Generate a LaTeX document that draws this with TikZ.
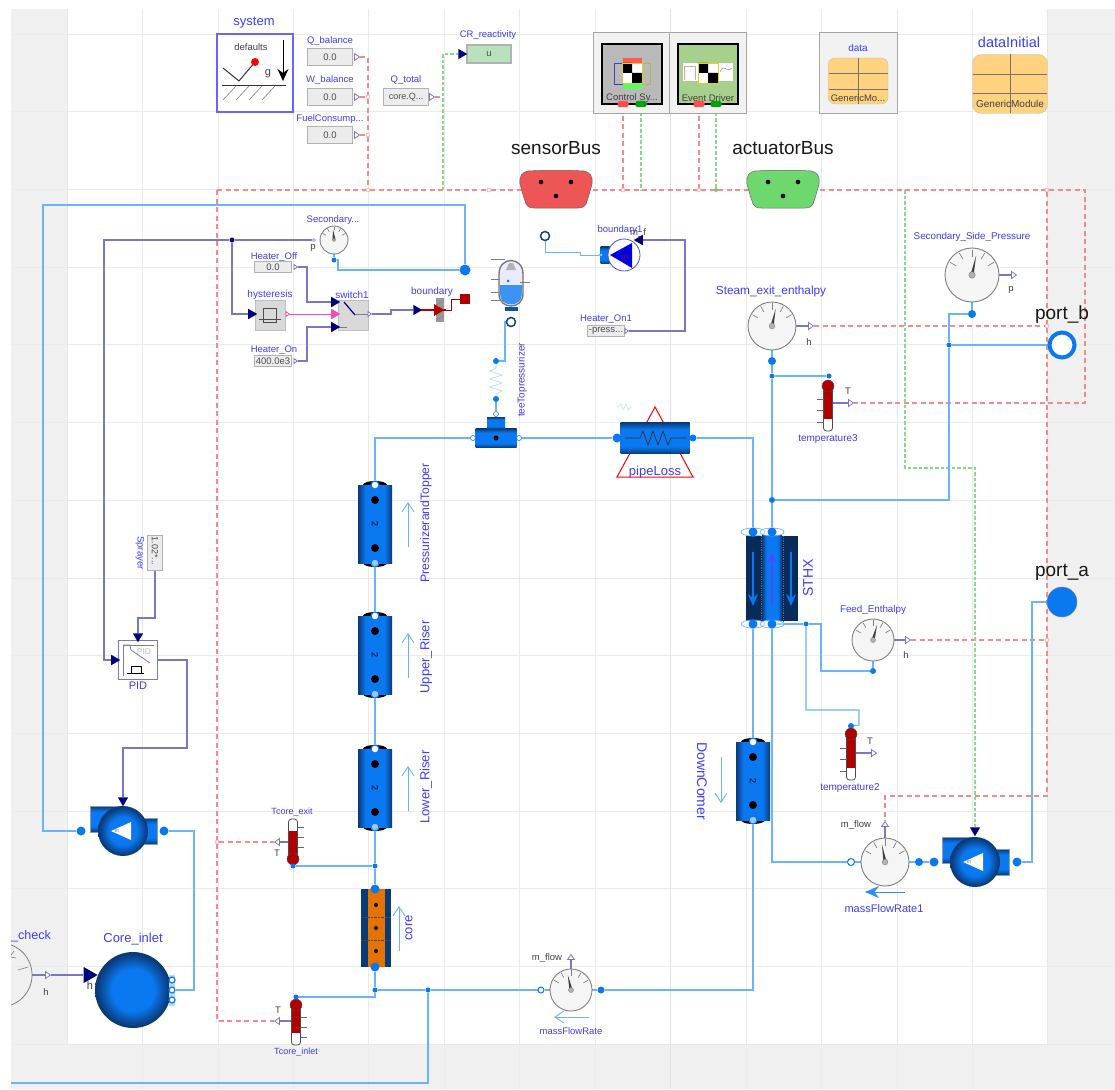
\documentclass[tikz,border=0pt]{standalone}
\usepackage{fontspec}
\setmainfont{Liberation Sans}
\usetikzlibrary{positioning,arrows.meta,shapes.geometric,backgrounds,calc}

\definecolor{canvasgray}{HTML}{F0F0F0}
\definecolor{gridgray}{HTML}{EBEBEB}
\definecolor{labelblue}{HTML}{3C3CFF}
\definecolor{pipeblue}{HTML}{6AB4FF}
\definecolor{fluidblue}{HTML}{0A78F0}
\definecolor{fluiddark}{HTML}{0A3A78}
\definecolor{signalpurple}{HTML}{7878C8}
\definecolor{navytip}{HTML}{00007F}
\definecolor{busred}{HTML}{F58A8A}
\definecolor{busgreen}{HTML}{86DC86}
\definecolor{tableorange}{HTML}{FFD27F}
\definecolor{thermored}{HTML}{B00000}
\definecolor{sensorfill}{HTML}{EE5555}
\definecolor{actuatorfill}{HTML}{6ED86E}
\definecolor{crfill}{HTML}{B8E2BC}
\definecolor{eventfill}{HTML}{A8D08D}

\pgfdeclarehorizontalshading{pipeshade}{100bp}{color(0bp)=(fluiddark); color(25bp)=(fluiddark); color(36bp)=(fluidblue); color(64bp)=(fluidblue); color(75bp)=(fluiddark); color(100bp)=(fluiddark)}
\pgfdeclareradialshading{ballshade}{\pgfpoint{0bp}{0bp}}{color(0bp)=(fluidblue); color(14bp)=(fluidblue); color(24bp)=(fluiddark); color(25bp)=(fluiddark); color(50bp)=(fluiddark)}

% dial with ticks and needle
\newcommand{\gaugedial}[4]{%
  \node[gauge, minimum size=2*#3 pt] (#1) at (#2) {};
  \foreach \a in {30,60,90,120,150}
    \draw[gray, line width=0.7pt] ($(#1)+(\a:#3*0.68pt)$) -- ($(#1)+(\a:#3*0.94pt)$);
  \fill[black!75] ($(#1)+(#4+90:1.6pt)$) -- ($(#1)+(#4:#3*0.74pt)$) -- ($(#1)+(#4-90:1.6pt)$) -- cycle;
  \draw[gray, fill=gray!60] (#1) circle (#3*0.12pt);
}
% thermometer, bulb at the origin of the scope
\newcommand{\thermo}[2]{%
  \begin{scope}[#1]
    \draw[black!70, fill=white, rounded corners=3pt, line width=0.8pt] (-4.5,0) rectangle (4.5,#2);
    \fill[thermored] (-3.8,0) rectangle (3.8,#2-12);
    \draw[black!70, line width=0.7pt] (-4.5,0) -- (-4.5,#2-12) (4.5,0) -- (4.5,#2-12);
    \draw[black!70, fill=thermored] (0,0) circle (6pt);
    \foreach \t in {0.3,0.55,0.8}
      \draw[black!60, line width=0.6pt] (-4.5,#2*\t) -- (-11,#2*\t);
  \end{scope}
}
\newcommand{\pipecell}[3]{%
  \fill[black] (#2,#3-39) ellipse (12pt and 4pt);
  \fill[black] (#2,#3+39) ellipse (12pt and 4pt);
  \node[pipebody] (#1) at (#2,#3) {};
  \fill[black] (#2,#3-24) circle (4pt) (#2,#3+24) circle (4pt);
  \node[rotate=-90, font=\fontsize{9}{10}\selectfont] (#1num) at (#2,#3) {2};
  \node[openport, fill=white, draw=fluidblue] (#1top) at (#2,#3-39) {};
  \node[openport, fill=fluidblue!40!white, draw=fluidblue] (#1bot) at (#2,#3+39) {};
}
\newcommand{\pumpbody}[3]{%
  \draw[fluiddark!50, shade, shading=pipeshade, shading angle=90] (#2-33,#3-25) rectangle (#2-2,#3+1);
  \draw[fluiddark!50, shade, shading=pipeshade, shading angle=90] (#2+2,#3-13) rectangle (#2+34,#3+13);
  \node[ballbody, minimum size=50pt] (#1) at (#2,#3) {};
  \fill[white] (#2-12,#3) -- (#2+8,#3-9) -- (#2+8,#3+9) -- cycle;
  \node[font=\fontsize{5}{6}\selectfont, black!60] (#1m) at (#2-6,#3) {m};
}
\newcommand{\pidcheck}[2]{%
  \fill[white] (#1,#2) rectangle ++(20,20);
  \fill[black] (#1,#2) rectangle ++(10,10) (#1+10,#2+10) rectangle ++(10,10);
  \draw[yellow!85!black, line width=0.8pt] (#1,#2) rectangle ++(20,20);
}
\newcommand{\busconn}[3]{%
  \begin{scope}[shift={(#1,#2)}]
    \draw[black!60, fill=#3, line width=0.5pt] (-28,-19) .. controls (-10,-20) and (10,-20) .. (28,-19) .. controls (34,-18) and (37,-14) .. (36,-6) .. controls (34,2) and (32,8) .. (30,14) .. controls (28,17) and (26,18) .. (22,18) -- (-22,18) .. controls (-26,18) and (-28,17) .. (-30,14) .. controls (-32,8) and (-34,2) .. (-36,-6) .. controls (-37,-14) and (-34,-18) .. (-28,-19) -- cycle;
    \fill[black] (-15,-8) circle (2.3pt) (15,-8) circle (2.3pt) (0,6) circle (2.3pt);
  \end{scope}
}

\begin{document}
\begin{tikzpicture}[
    x=1pt, y=-1pt,
    >=Stealth,
    lblS/.style={text=labelblue, font=\fontsize{9.5}{11}\selectfont, inner sep=0pt},
    lblM/.style={text=labelblue, font=\fontsize{11}{13}\selectfont, inner sep=0pt},
    lblL/.style={text=labelblue, font=\fontsize{13}{15}\selectfont, inner sep=0pt},
    blackS/.style={text=black!75, font=\fontsize{9.5}{11}\selectfont, inner sep=0pt},
    blackL/.style={text=black!90, font=\fontsize{19}{21}\selectfont, inner sep=0pt},
    gauge/.style={circle, draw=gray, fill=black!4, line width=0.9pt, inner sep=0pt},
    pipebody/.style={rectangle, shade, shading=pipeshade, minimum width=34pt, minimum height=78pt, inner sep=0pt},
    ballbody/.style={circle, shade, shading=ballshade, inner sep=0pt},
    fluidport/.style={circle, fill=fluidblue, minimum size=9pt, inner sep=0pt},
    openport/.style={circle, draw=fluidblue, fill=white, line width=1.2pt, minimum size=8pt, inner sep=0pt},
    junction/.style={circle, fill=fluidblue, minimum size=5pt, inner sep=0pt},
    valuebox/.style={rectangle, draw=gray!60, fill=gray!15, line width=1.1pt, font=\fontsize{9.5}{11}\selectfont, text=black!70, inner sep=0pt},
    blockbox/.style={rectangle, draw=gray!50, fill=gray!30, inner sep=0pt},
    outtip/.style={isosceles triangle, isosceles triangle apex angle=70, draw=signalpurple, fill=white, line width=0.8pt, minimum size=5pt, inner sep=1pt},
    intip/.style={isosceles triangle, isosceles triangle apex angle=60, fill=navytip, minimum size=9pt, inner sep=1pt},
    flowpipe/.style={draw=pipeblue, line width=1.1pt},
    signal/.style={draw=signalpurple, line width=1.1pt},
    boolsignal/.style={draw=magenta!70, line width=1pt},
    redbus/.style={draw=busred, dash pattern=on 5pt off 3.5pt, line width=1.3pt},
    greenbus/.style={draw=busgreen, dash pattern=on 3.5pt off 2pt, line width=1.1pt},
    redjoint/.style={circle, draw=busred, fill=white, minimum size=4pt, inner sep=0pt},
    flowarrow/.style={draw=pipeblue, line width=0.9pt, -{Straight Barb[length=9pt,width=12pt]}}
]
\useasboundingbox (0,0) rectangle (1115,1089);

% Fixed components top row
\node[rectangle, draw=blue!60!white, line width=1.1pt, fill=white, minimum width=76pt, minimum height=78pt] (systembox) at (255,73) {};
\node[lblL] (systemlbl) at (254,23) {system};
\node[blackS] (defaultslbl) at (251,47) {defaults};
\draw[black!80, line width=1pt] (223,68) -- (239,81) -- (255,62);
\fill[red] (255,62) circle (4pt);
\node[blackS, font=\fontsize{11}{13}\selectfont] (glbl) at (268,74) {g};
\draw[black, line width=1pt, -{Stealth[length=12pt,width=11pt]}] (283,40) -- (283,81);
\draw[black!80, line width=0.8pt] (222,85) -- (286,85);
\foreach \h in {223,236,249,262}
  \draw[black!50, line width=0.6pt] (\h,100) -- (\h+13,86);

\node[lblS] (qbalancelbl) at (330,41) {Q\_balance};
\node[valuebox, minimum width=45pt, minimum height=17pt] (qbalance) at (330,57) {0.0};
\node[lblS] (wbalancelbl) at (330,80) {W\_balance};
\node[valuebox, minimum width=45pt, minimum height=17pt] (wbalance) at (330,97) {0.0};
\node[lblS] (fuellbl) at (330,119) {FuelConsump...};
\node[valuebox, minimum width=45pt, minimum height=17pt] (fuelconsump) at (330,135) {0.0};
\node[lblS] (qtotallbl) at (406,80) {Q\_total};
\node[valuebox, minimum width=45pt, minimum height=17pt, font=\fontsize{9}{11}\selectfont] (qtotal) at (406,97) {core.Q...};
\node[outtip] (qbalanceout) at (356,57) {};
\node[outtip] (wbalanceout) at (356,97) {};
\node[outtip] (fuelout) at (356,135) {};
\node[outtip] (qtotalout) at (431,97) {};
\node[lblS] (crlbl) at (488,35) {CR\_reactivity};
\node[valuebox, fill=crfill, minimum width=44pt, minimum height=18pt] (crvalue) at (489,54) {u};
\node[intip] (crin) at (461,54) {};

% Controllers
\node[rectangle, draw=gray!70, fill=black!5, line width=1pt, minimum width=76pt, minimum height=81pt] (controlbox) at (631,73) {};
\node[rectangle, draw=gray!70, fill=black!5, line width=1pt, minimum width=77pt, minimum height=81pt] (eventbox) at (708,73) {};
\node[rectangle, draw=black, fill=gray!55, line width=1.3pt, minimum width=60pt, minimum height=60pt] (controlinner) at (632,74) {};
\node[rectangle, draw=black, fill=eventfill, line width=1.3pt, minimum width=60pt, minimum height=60pt] (eventinner) at (708,74) {};
\draw[blue!50!gray, line width=0.6pt] (614,63) rectangle (630,84);
\draw[yellow!70!black, line width=0.6pt] (634,63) rectangle (650,84);
\fill[red!65] (623,58) rectangle (642,63);
\fill[green!65] (623,84) rectangle (642,89);
\pidcheck{622}{63}
\fill[white] (683,63) rectangle (733,81);
\draw[red!40, line width=0.7pt] (684,80) -- (684,66) -- (695,66) -- (695,80);
\draw[blue!50, line width=0.5pt] (720,72) .. controls (724,62) and (726,74) .. (732,68);
\pidcheck{698}{63}
\node[blackS] (controllbl) at (632,98) {Control Sy...};
\node[blackS] (eventlbl) at (708,98) {Event Driver};
\node[rectangle, rounded corners=2pt, fill=red!70, minimum width=11pt, minimum height=6pt, inner sep=0pt] (controlred) at (623,104) {};
\node[rectangle, rounded corners=2pt, fill=green!65!black, minimum width=11pt, minimum height=6pt, inner sep=0pt] (controlgreen) at (641,104) {};
\node[rectangle, rounded corners=2pt, fill=red!70, minimum width=11pt, minimum height=6pt, inner sep=0pt] (eventred) at (699,104) {};
\node[rectangle, rounded corners=2pt, fill=green!65!black, minimum width=11pt, minimum height=6pt, inner sep=0pt] (eventgreen) at (716,104) {};

% Data records
\node[rectangle, draw=gray!70, fill=black!5, line width=1pt, minimum width=78pt, minimum height=81pt] (databox) at (858,73) {};
\node[lblS, font=\fontsize{10}{12}\selectfont] (datalbl) at (858,48) {data};
\node[rectangle, rounded corners=7pt, draw=gray!50, fill=tableorange, minimum width=60pt, minimum height=46pt] (datatable) at (858,81) {};
\draw[black!55, line width=0.7pt] (858,58) -- (858,104) (829,73) -- (888,73) (829,89) -- (888,89);
\node[blackS] (datamodule) at (858,98) {GenericMo...};
\node[lblL, font=\fontsize{14.5}{16}\selectfont] (initiallbl) at (1009,42) {dataInitial};
\node[rectangle, rounded corners=9pt, draw=gray!50, fill=tableorange, minimum width=75pt, minimum height=59pt] (initialtable) at (1010,84) {};
\draw[black!55, line width=0.7pt] (1010,54) -- (1010,113) (973,74) -- (1047,74) (973,93) -- (1047,93);
\node[blackS, font=\fontsize{10}{12}\selectfont] (initialmodule) at (1010,104) {GenericModule};

% Buses
\node[blackL] (sensorlbl) at (556,148) {sensorBus};
\busconn{556}{190}{sensorfill}
\node[blackL] (actuatorlbl) at (783,148) {actuatorBus};
\busconn{783}{190}{actuatorfill}

% Pressure control
\node[lblS] (secondarylbl) at (333,220) {Secondary...};
\gaugedial{secondarygauge}{334,240}{14}{95}
\node[openport, minimum size=3pt, line width=0.5pt, draw=signalpurple] (secondaryp) at (314,240) {};
\node[blackS] (secondarypv) at (313,248) {p};
\node[junction] (secondaryport) at (334,260) {};
\node[fluidport, minimum size=11pt] (heatjoint) at (465,270) {};

\node[lblS] (offlbl) at (274,257) {Heater\_Off};
\node[valuebox, minimum width=37pt, minimum height=11pt] (heateroff) at (273,267) {0.0};
\node[outtip, minimum size=3pt] (heateroffout) at (295,267) {};
\node[lblS, font=\fontsize{10}{12}\selectfont] (hystlbl) at (270,295) {hysteresis};
\node[blockbox, minimum width=30pt, minimum height=30pt] (hysteresis) at (270,315) {};
\draw[black!70, line width=0.6pt] (259,319) -- (281,319) (263,322) -- (263,308) -- (276,308) -- (276,322) -- cycle;
\node[intip] (hystin) at (251,314) {};
\node[outtip, draw=magenta!70, minimum size=3pt] (hystout) at (287,314) {};
\node[lblS] (onlbl) at (274,350) {Heater\_On};
\node[valuebox, minimum width=37pt, minimum height=11pt] (heateron) at (273,361) {400.0e3};
\node[outtip, minimum size=3pt] (heateronout) at (295,361) {};
\node[lblS, font=\fontsize{10}{12}\selectfont] (switchlbl) at (352,295) {switch1};
\node[blockbox, minimum width=30pt, minimum height=30pt] (switchone) at (353,315) {};
\draw[navytip, line width=1.2pt] (344,302) -- (355,315);
\draw[gray, line width=0.7pt] (355,314) -- (368,314) (338,327) -- (347,327);
\node[intip] (switchu1) at (334,302) {};
\node[intip, fill=magenta!70] (switchu2) at (334,314) {};
\node[intip] (switchu3) at (334,327) {};
\node[outtip, minimum size=3pt] (switchout) at (369,314) {};
\node[lblS, font=\fontsize{10}{12}\selectfont] (boundlbl) at (432,292) {boundary};
\node[intip] (boundin) at (416,310) {};
\fill[gray!80] (436,298) rectangle (444,322);
\foreach \b in {301,306,...,316}
  \draw[black!50, line width=0.4pt] (436,\b+4) -- (444,\b);
\draw[red!70!black, line width=1.5pt] (421,310) -- (446,310);
\fill[red!70!black] (434,304) -- (444,310) -- (434,316) -- cycle;
\node[rectangle, fill=red!70!black, minimum size=10pt, inner sep=0pt] (boundred) at (465,299) {};

% Pressurizer
\draw[black!55, line width=1.3pt, fill=blue!8] (499,274) .. controls (499,256) and (523,256) .. (523,274) -- (523,294) .. controls (523,310) and (499,310) .. (499,294) -- cycle;
\fill[fluidblue!80] (500,285) rectangle (522,294);
\fill[fluidblue!80] (500,294) .. controls (500,308) and (522,308) .. (522,294) -- cycle;
\fill[gray!60] (509,263) -- (513,263) -- (516,270) -- (506,270) -- cycle;
\fill[fluidblue] (508,281) circle (1.5pt);
\draw[black!50, line width=0.4pt] (491,259) -- (505,259) (491,300) -- (504,300) (491,279) -- (500,279) (491,292) -- (503,292) (520,282) -- (530,282);
\fill[fluidblue!70!black] (505,307) rectangle (518,311);
\node[openport, draw=fluiddark!80!fluidblue, line width=1.5pt, minimum size=9pt] (pressport) at (511,322) {};
\node[junction, minimum size=6pt] (springtop) at (496,361) {};
\node[junction, minimum size=6pt] (springbot) at (496,399) {};
\draw[pipeblue!60, line width=0.6pt] (496,364) -- (496,368) -- (490,371) -- (502,375) -- (490,379) -- (502,383) -- (490,387) -- (502,391) -- (496,394) -- (496,396);
\node[lblS, rotate=90, font=\fontsize{10}{12}\selectfont] (teelbl) at (522,380) {teeTopressurizer};

% Boundary with mass flow
\node[openport, draw=fluiddark!80!fluidblue, line width=1.5pt, minimum size=9pt] (boundone) at (545,236) {};
\node[rectangle, shade, shading=pipeshade, shading angle=90, minimum width=9pt, minimum height=17pt, inner sep=0pt] (pumpstub) at (605,255) {};
\node[circle, draw=blue!70, fill=white, line width=0.8pt, minimum size=32pt, inner sep=0pt] (boundmdot) at (624,255) {};
\fill[blue!90!black] (610,255) -- (632,243) -- (632,268) -- cycle;
\node[text=red!70!black, font=\fontsize{9}{10}\selectfont, inner sep=0pt] (mdot) at (625,256) {$\dot{m}$};
\node[openport, minimum size=3pt, line width=0.5pt] (boundoneport) at (601,255) {};
\node[lblS] (boundonelbl) at (620,230) {boundary1};
\node[blackS] (mflabel) at (638,233) {m\_f};
\node[intip, shape border rotate=180] (mflowin) at (640,240) {};
\node[lblS] (heatonelbl) at (606,319) {Heater\_On1};
\node[valuebox, minimum width=37pt, minimum height=11pt] (heaterone) at (606,331) {-press...};
\node[outtip, minimum size=3pt] (heateroneout) at (626,331) {};

% Loop components
\node[rectangle, shade, shading=pipeshade, shading angle=90, minimum width=41pt, minimum height=19pt, inner sep=0pt] (teebase) at (496,438) {};
\node[rectangle, shade, shading=pipeshade, shading angle=90, minimum width=18pt, minimum height=12pt, inner sep=0pt] (teetop) at (496,423) {};
\fill[black] (496,438) circle (2.5pt);
\node[openport, minimum size=5pt, line width=0.6pt] (teeleft) at (473,438) {};
\node[openport, minimum size=5pt, line width=0.6pt] (teeright) at (519,438) {};
\node[openport, minimum size=5pt, line width=0.6pt] (teeup) at (496,414) {};

\draw[red, line width=1pt] (655,407) -- (693,477) -- (617,477) -- cycle;
\node[rectangle, shade, shading=pipeshade, shading angle=90, minimum width=69pt, minimum height=31pt, inner sep=0pt] (pipeloss) at (655,438) {};
\draw[black!80, line width=0.7pt] (625,438) -- (640,438) -- (643,431) -- (648,445) -- (653,431) -- (658,445) -- (663,431) -- (668,445) -- (671,438) -- (686,438);
\node[fluidport] (lossleft) at (617,438) {};
\node[fluidport, minimum size=7pt] (lossright) at (693,438) {};
\node[lblL] (losslbl) at (655,472) {pipeLoss};
\draw[pipeblue!50, line width=0.4pt] (618,407) -- (621,404) -- (623,410) -- (626,404) -- (628,410) -- (631,407);

\pipecell{pressurizercell}{375}{524}
\node[lblL, font=\fontsize{12.2}{14}\selectfont, rotate=90] (pressurizerlbl) at (426,523) {PressurizerandTopper};
\draw[flowarrow] (408,547) -- (408,502);
\pipecell{upperriser}{375}{655}
\node[lblL, rotate=90] (upperlbl) at (426,657) {Upper\_Riser};
\draw[flowarrow] (408,678) -- (408,633);
\pipecell{lowerriser}{375}{788}
\node[lblL, rotate=90] (lowerlbl) at (426,787) {Lower\_Riser};
\draw[flowarrow] (408,811) -- (408,766);
\pipecell{downcomer}{753}{781}
\node[lblL, font=\fontsize{14}{16}\selectfont, rotate=-90] (downlbl) at (702,781) {DownComer};
\draw[flowarrow] (721,757) -- (721,803);

% Core
\node[rectangle, fill=fluiddark, minimum width=30pt, minimum height=78pt, inner sep=0pt] (coreshell) at (376,928) {};
\node[rectangle, fill=orange!90!black, minimum width=17pt, minimum height=78pt, inner sep=0pt] (corefuel) at (376,928) {};
\fill[black] (376,905) circle (2pt) (376,928) circle (2pt) (376,951) circle (2pt);
\draw[black!70, densely dotted] (361,917) -- (391,917) (361,940) -- (391,940);
\node[fluidport] (coretop) at (375,889) {};
\node[fluidport] (corebot) at (375,967) {};
\draw[flowarrow] (399,951) -- (399,906);
\node[lblL, rotate=90] (corelbl) at (409,928) {core};

% STHX
\node[rectangle, fill=fluiddark!75!black, minimum width=52pt, minimum height=85pt, inner sep=0pt] (sthx) at (772,578) {};
\node[rectangle, shade, shading=pipeshade, minimum width=20pt, minimum height=85pt, inner sep=0pt] (sthxcore) at (772,578) {};
\draw[black!60, densely dotted, line width=0.8pt] (761,536) -- (761,621) (783,536) -- (783,621);
\draw[fluidblue, line width=1.2pt, -{Stealth[length=12pt,width=10pt]}] (753,552) -- (753,606);
\draw[fluidblue, line width=1.2pt, -{Stealth[length=12pt,width=10pt]}] (791,552) -- (791,606);
\draw[blue!70, line width=1.2pt, -{Stealth[length=10pt,width=9pt]}] (772,606) -- (772,553);
\foreach \e/\f in {753/532,772/532,753/624,772/624}
  \draw[pipeblue, line width=0.7pt, fill=white, fill opacity=0.4] (\e,\f) ellipse (12pt and 4pt);
\node[fluidport] (sthxa) at (753,532) {};
\node[fluidport] (sthxb) at (772,532) {};
\node[fluidport] (sthxc) at (753,624) {};
\node[fluidport] (sthxd) at (772,624) {};
\node[lblL, font=\fontsize{14}{16}\selectfont, rotate=90] (sthxlbl) at (808,578) {STHX};

% Sensors, secondary side
\node[lblS, font=\fontsize{9.8}{11}\selectfont] (sidelbl) at (972,237) {Secondary\_Side\_Pressure};
\gaugedial{sidegauge}{972,275}{27}{78}
\node[outtip] (sideout) at (1013,275) {};
\node[blackS] (sidep) at (1011,290) {p};
\node[fluidport, minimum size=8pt] (sideport) at (972,314) {};
\node[lblS, font=\fontsize{11.8}{14}\selectfont] (steamlbl) at (771,291) {Steam\_exit\_enthalpy};
\gaugedial{steamgauge}{772,326}{24}{78}
\node[outtip] (steamout) at (810,326) {};
\node[blackS] (steamh) at (809,342) {h};
\node[fluidport, minimum size=8pt] (steamport) at (772,361) {};
\node[junction] (steamjoint) at (772,376) {};
\node[junction] (temp3port) at (829,376) {};
\thermo{shift={(828,386)}}{45}
\node[blackS] (temp3T) at (848,391) {T};
\node[outtip] (temp3out) at (850,403) {};
\node[lblS, font=\fontsize{10}{12}\selectfont] (temp3lbl) at (828,439) {temperature3};
\node[junction, minimum size=5pt] (sidejoint) at (949,345) {};
\node[blackL] (portblbl) at (1062,315) {port\_b};
\node[circle, draw=fluidblue, fill=white, line width=4pt, minimum size=25pt, inner sep=0pt] (portb) at (1062,345) {};
\node[junction, minimum size=6pt] (sthxjoint) at (772,500) {};

\node[lblS, font=\fontsize{9.8}{11}\selectfont] (feedlbl) at (873,610) {Feed\_Enthalpy};
\gaugedial{feedgauge}{873,640}{21}{75}
\node[outtip] (feedout) at (907,640) {};
\node[blackS] (feedh) at (906,655) {h};
\node[fluidport, minimum size=6pt] (feedport) at (873,671) {};
\node[junction] (feedjoint) at (806,624) {};
\node[junction, minimum size=6pt] (temp2port) at (851,726) {};
\thermo{shift={(851,734)}}{46}
\node[blackS] (temp2T) at (870,741) {T};
\node[outtip] (temp2out) at (873,753) {};
\node[lblS, font=\fontsize{10}{12}\selectfont] (temp2lbl) at (850,788) {temperature2};
\node[blackL] (portalbl) at (1062,572) {port\_a};
\node[circle, draw=fluiddark!60, fill=fluidblue, minimum size=30pt, inner sep=0pt] (porta) at (1062,602) {};

% Pumps and flow sensors
\pumpbody{pumptwo}{975}{862}
\node[intip, shape border rotate=-90] (pumptwoin) at (975,830) {};
\node[fluidport] (pumptwoleft) at (934,862) {};
\node[fluidport] (pumptworight) at (1017,862) {};
\gaugedial{flowonegauge}{885,862}{24}{100}
\node[openport, line width=1pt, minimum size=7pt] (flowoneleft) at (851,862) {};
\node[fluidport, minimum size=8pt] (flowoneright) at (919,862) {};
\node[outtip, shape border rotate=90] (flowoneout) at (885,825) {};
\node[blackS] (flowonem) at (856,825) {m\_flow};
\draw[fluidblue!85, line width=1pt, -{Stealth[length=14pt,width=12pt]}] (905,892) -- (865,892);
\node[lblM] (flowonelbl) at (884,909) {massFlowRate1};

\pumpbody{pumpone}{123}{831}
\node[intip, shape border rotate=-90] (pumponein) at (123,800) {};
\node[fluidport] (pumponeleft) at (81,831) {};
\node[fluidport] (pumponeright) at (164,831) {};
\node[lblS, font=\fontsize{11}{13}\selectfont] (pidlbl) at (138,686) {PID};
\node[rectangle, draw=signalpurple, fill=white, line width=1pt, minimum size=39pt, inner sep=0pt] (pid) at (138,660) {};
\draw[black!50, line width=0.5pt] (123,645) -- (154,645) (123,645) -- (123,676);
\draw[signalpurple, line width=0.8pt] (123,645) -- (130,645) -- (131,650) -- (150,663);
\node[font=\fontsize{8.5}{10}\selectfont, text=gray!50, inner sep=0pt] (pidtext) at (144,652) {PID};
\draw[black, line width=0.6pt] (127,673) -- (144,673) (131,673) -- (131,666) -- (141,666) -- (141,673);
\node[intip] (pidleft) at (114,660) {};
\node[intip, shape border rotate=-90] (pidtop) at (138,636) {};
\node[valuebox, minimum width=15pt, minimum height=35pt] (sprayer) at (155,553) {};
\node[rotate=-90, font=\fontsize{9}{11}\selectfont, text=black!70, inner sep=0pt] (sprayervalue) at (155,551) {1.02*...};
\node[lblS, rotate=-90] (sprayerlbl) at (140,553) {Sprayer};
\node[junction, fill=navytip] (signaljoint) at (232,240) {};

\node[lblL] (corelet) at (133,939) {Core\_inlet};
\node[ballbody, minimum size=76pt] (coreinlet) at (133,990) {};
\node[rectangle, fill=pipeblue!50, minimum width=6pt, minimum height=31pt, inner sep=0pt] (portstrip) at (172,990) {};
\node[openport, minimum size=6pt, line width=1.2pt] (coreport) at (172,990) {};
\node[openport, minimum size=6pt, line width=1.2pt] (coreportup) at (172,980) {};
\node[openport, minimum size=6pt, line width=1.2pt] (coreportdn) at (172,1000) {};
\node[intip, minimum size=14pt] (corein) at (88,975) {};
\node[blackS, font=\fontsize{11}{13}\selectfont] (coreh) at (90,986) {h};
\node[lblM, font=\fontsize{12.5}{14}\selectfont, anchor=west] (checklbl) at (11,936) {\_check};
\draw[gray, line width=0.8pt] (11,944.9) arc (70:-70:32pt);
\draw[gray, line width=0.6pt] (11,957) -- (16,958) (18,970) -- (28,967);
\draw[black!50, line width=0.6pt] (11,955) -- (14,951);
\coordinate (checkedge) at (32,975);
\node[outtip] (checkout) at (47,975) {};
\node[blackS] (checkh) at (46,992) {h};

\node[lblS, font=\fontsize{9}{11}\selectfont] (exitlbl) at (292,812) {Tcore\_exit};
\thermo{shift={(293,859)},rotate=180}{40}
\node[junction] (exitport) at (293,866) {};
\node[outtip, shape border rotate=180] (exitout) at (278,842) {};
\node[blackS] (exitT) at (277,853) {T};
\node[junction] (exitjoint) at (375,866) {};
\node[lblS, font=\fontsize{9}{11}\selectfont] (inletlbl) at (296,1052) {Tcore\_inlet};
\thermo{shift={(296,1005)},xscale=-1}{40}
\node[junction] (inletport) at (296,997) {};
\node[outtip, shape border rotate=180] (inletout) at (278,1021) {};
\node[blackS] (inletT) at (278,1010) {T};
\node[junction] (coredown) at (375,990) {};
\node[junction] (checkjoint) at (428,990) {};

\gaugedial{flowgauge}{571,990}{21}{102}
\node[openport, line width=1pt, minimum size=6pt] (flowleft) at (541,990) {};
\node[fluidport, minimum size=7pt] (flowright) at (601,990) {};
\node[outtip, shape border rotate=90] (flowout) at (571,958) {};
\node[blackS] (flowm) at (547,958) {m\_flow};
\draw[flowarrow] (589,1017) -- (554,1017);
\node[lblS] (flowlbl) at (571,1031) {massFlowRate};

% Red bus joints
\node[redjoint] (jointleft) at (368,190) {};
\node[redjoint] (jointw) at (368,97) {};
\node[redjoint] (jointf) at (368,135) {};
\node[redjoint] (jointmid) at (489,190) {};
\node[redjoint] (jointctrl) at (623,190) {};
\node[redjoint] (jointevent) at (699,190) {};
\node[circle, fill=busgreen!90!black, minimum size=4pt, inner sep=0pt] (jointgreen) at (716,190) {};
\node[redjoint] (jointright) at (1047,190) {};
\node[redjoint] (jointsteam) at (1047,326) {};
\node[redjoint] (jointfeed) at (1047,640) {};
\node[redjoint] (jointexit) at (217,842) {};

\begin{scope}[on background layer]
  % Canvas and grid
  \fill[canvasgray] (11,9) rectangle (1115,1089);
  \fill[white] (67,9) rectangle (1047,1044);
  \foreach \k in {0,...,13}
    \draw[gridgray, line width=0.8pt] (11,34+77.7*\k) -- (1115,34+77.7*\k);
  \foreach \k in {1,...,12}
    \draw[gridgray, line width=0.8pt] (67+75.45*\k,9) -- (67+75.45*\k,1089);
  \draw[gray!18, line width=1pt] (11,578) -- (1115,578);
  \draw[gray!22, line width=1.2pt] (670.6,9) -- (670.6,1089);
  \draw[gray!18, line width=1pt] (67,9) -- (67,1044) -- (1047,1044) -- (1047,9);

  % Red bus lines
  \draw[redbus] (qbalanceout) -- (368,57) -- (jointw) -- (jointf) -- (jointleft);
  \draw[redbus] (wbalanceout) -- (jointw);
  \draw[redbus] (fuelout) -- (jointf);
  \draw[redbus] (qtotalout) -- (440,97);
  \draw[redbus] (jointexit |- jointleft) -- (jointleft) -- (jointmid) -- (jointctrl) -- (jointevent) -- (jointgreen) -- (jointright) -- (1085,190) -- (1085,403) -- (temp3out);
  \draw[redbus] (217,190) -- (jointexit) -- (217,1021) -- (inletout);
  \draw[redbus] (jointexit) -- (exitout);
  \draw[redbus] (controlred) -- (jointctrl);
  \draw[redbus] (eventred) -- (jointevent);
  \draw[redbus] (jointright) -- (jointsteam) -- (jointfeed) -- (1047,796) -- (885,796) -- (flowoneout);
  \draw[redbus] (steamout) -- (jointsteam);
  \draw[redbus] (feedout) -- (jointfeed);

  % Green bus lines
  \draw[greenbus] (443,190) -- (443,54) -- (crin);
  \draw[greenbus] (controlgreen) -- (641,190);
  \draw[greenbus] (eventgreen) -- (jointgreen);
  \draw[greenbus] (905,190) -- (905,468) -- (975,468) -- (pumptwoin);

  % Signal lines
  \draw[signal] (secondaryp) -- (signaljoint) -- (104,240) -- (104,660) -- (pidleft);
  \draw[signal] (signaljoint) -- (232,314) -- (hystin);
  \draw[signal] (heateroffout) -- (307,267) -- (307,302) -- (switchu1);
  \draw[signal] (heateronout) -- (307,361) -- (307,327) -- (switchu3);
  \draw[boolsignal] (hystout) -- (switchu2);
  \draw[signal] (switchout) -- (391,314) -- (391,310) -- (boundin);
  \draw[red!70!black, line width=1pt] (446,310) -- (451,310) -- (451,299) -- (boundred);
  \draw[signal] (heateroneout) -- (685,331) -- (685,240) -- (mflowin);
  \draw[signal] (sprayer) -- (155,618) -- (138,618) -- (pidtop);
  \draw[signal] (pid) -- (187,660) -- (187,748) -- (123,748) -- (pumponein);
  \draw[signal] (checkedge) -- (checkout);
  \draw[signal] (checkout) -- (corein);
  \draw[signal] (sidegauge.east) -- (sideout);
  \draw[signal] (steamgauge.east) -- (steamout);
  \draw[signal] (feedgauge.east) -- (feedout);
  \draw[signal] (flowonegauge.north) -- (flowoneout);
  \draw[signal] (flowgauge.north) -- (flowout);
  \draw[signal] (828,403) -- (temp3out);
  \draw[signal] (851,753) -- (temp2out);
  \draw[signal] (293,842) -- (exitout);
  \draw[signal] (296,1021) -- (inletout);

  % Fluid lines
  \draw[flowpipe] (pumponeleft) -- (43,831) -- (43,205) -- (465,205) -- (heatjoint);
  \draw[flowpipe] (heatjoint) -- (338,270) -- (338,260) -- (secondaryport);
  \draw[flowpipe] (secondaryport) -- (secondarygauge);
  \draw[flowpipe, line width=0.8pt] (boundone) -- (545,252) -- (580,252) -- (580,255) -- (boundoneport);
  \draw[flowpipe] (pressport) -- (505,322) -- (505,361) -- (springtop);
  \draw[flowpipe] (springbot) -- (teeup);
  \draw[flowpipe] (teeleft) -- (375,438) -- (pressurizercelltop);
  \draw[flowpipe] (teeright) -- (lossleft);
  \draw[flowpipe] (lossright) -- (753,438) -- (sthxa);
  \draw[flowpipe] (pressurizercellbot) -- (upperrisertop);
  \draw[flowpipe] (upperriserbot) -- (lowerrisertop);
  \draw[flowpipe] (lowerriserbot) -- (exitjoint) -- (coretop);
  \draw[flowpipe] (exitjoint) -- (exitport);
  \draw[flowpipe] (corebot) -- (coredown) -- (375,997) -- (296,997) -- (inletport);
  \draw[flowpipe] (coredown) -- (checkjoint) -- (flowleft);
  \draw[flowpipe] (checkjoint) -- (428,1083) -- (11,1083);
  \draw[flowpipe] (flowleft) -- (flowgauge);
  \draw[flowpipe] (flowright) -- (flowgauge);
  \draw[flowpipe] (flowright) -- (753,990) -- (downcomerbot);
  \draw[flowpipe] (downcomertop) -- (sthxc);
  \draw[flowpipe] (steamgauge) -- (steamport) -- (steamjoint) -- (sthxjoint) -- (sthxb);
  \draw[flowpipe] (steamjoint) -- (temp3port);
  \draw[flowpipe] (sthxjoint) -- (949,500) -- (sidejoint) -- (949,314) -- (sideport);
  \draw[flowpipe] (sidegauge) -- (sideport);
  \draw[flowpipe] (sidejoint) -- (portb);
  \draw[flowpipe] (sthxd) -- (feedjoint) -- (821,624) -- (821,671) -- (feedport);
  \draw[flowpipe] (feedport) -- (feedgauge);
  \draw[flowpipe] (feedjoint) -- (806,710) -- (859,710) -- (859,725) -- (temp2port);
  \draw[flowpipe] (sthxd) -- (772,862) -- (flowoneleft);
  \draw[flowpipe] (flowoneleft) -- (flowonegauge);
  \draw[flowpipe] (flowoneright) -- (flowonegauge);
  \draw[flowpipe] (flowoneright) -- (pumptwoleft);
  \draw[flowpipe] (pumptworight) -- (1032,862) -- (1032,602) -- (porta);
  \draw[flowpipe] (pumponeright) -- (194,831) -- (194,990) -- (coreport);
\end{scope}
\end{tikzpicture}
\end{document}
